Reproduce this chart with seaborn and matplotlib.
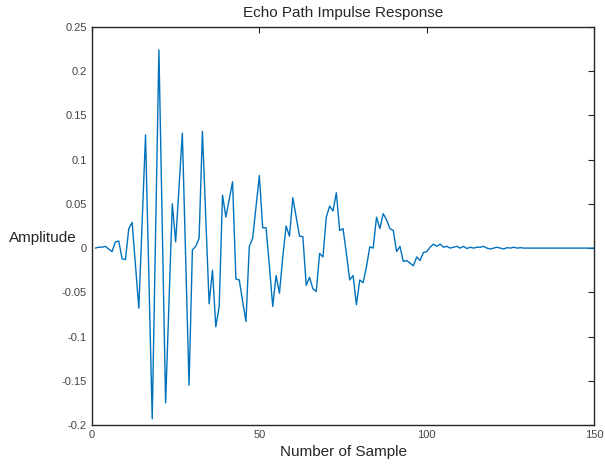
import numpy as np
import seaborn as sns
import matplotlib.pyplot as plt

# impulse response values (samples 1..n)
amplitude = [
    0.000, 0.001, 0.001, 0.002, -0.001, -0.004, 0.007, 0.008, -0.012, -0.013,
    0.022, 0.029, -0.020, -0.068, 0.030, 0.128, -0.032, -0.193, 0.015, 0.224,
    0.025, -0.175, -0.062, 0.050, 0.007, 0.068, 0.130, -0.012, -0.155, -0.002,
    0.002, 0.011, 0.132, 0.035, -0.063, -0.025, -0.089, -0.066, 0.060, 0.035,
    0.055, 0.075, -0.035, -0.036, -0.060, -0.083, 0.002, 0.011, 0.046, 0.082,
    0.023, 0.023, -0.020, -0.066, -0.031, -0.051, -0.010, 0.025, 0.0135, 0.057,
    0.035, 0.0135, 0.013, -0.042, -0.033, -0.046, -0.049, -0.006, -0.010, 0.035,
    0.0475, 0.042, 0.0626, 0.020, 0.022, -0.006, -0.036, -0.031, -0.064, -0.036,
    -0.039, -0.021, 0.0015, 0.000, 0.035, 0.022, 0.039, 0.032, 0.022, 0.020,
    -0.004, 0.002, -0.015, -0.014, -0.017, -0.020, -0.010, -0.014, -0.005, -0.004,
    0.001, 0.0045, 0.002, 0.0045, 0.001, 0.002, 0.000, 0.001, 0.002, 0.000,
    0.002, -0.0005, 0.001, 0.000, 0.001, 0.001, 0.002, 0.000, -0.001, 0.000,
    0.001, 0.000, -0.001, 0.0005, 0.000, 0.001, 0.000, 0.0005, 0.000, 0.000,
    0.000, 0.000, 0.000, 0.000, 0.000, 0.000, 0.000, 0.000, 0.000, 0.000,
    0.000, 0.000, 0.000, 0.000, 0.000, 0.000, 0.000, 0.000, 0.000, 0.000,
]
samples = np.arange(1, len(amplitude) + 1)

x_ticks = [0, 50, 100, 150]
y_ticks = [-0.2, -0.15, -0.1, -0.05, 0, 0.05, 0.1, 0.15, 0.2, 0.25]
y_tick_labels = ["-0.2", "-0.15", "-0.1", "-0.05", "0", "0.05", "0.1", "0.15", "0.2", "0.25"]

sns.set_style("white")
plt.rcParams["font.family"] = ["Liberation Sans", "DejaVu Sans"]

fig = plt.figure(figsize=(6.05, 4.65), dpi=100)
ax = fig.add_axes([0.152, 0.086, 0.830, 0.856])

sns.lineplot(x=samples, y=amplitude, color="#0072BD", linewidth=1.0, ax=ax)

ax.set_xlim(0, 150)
ax.set_ylim(-0.2, 0.25)
ax.set_xticks(x_ticks, [str(t) for t in x_ticks])
ax.set_yticks(y_ticks, y_tick_labels)
ax.tick_params(direction="in", length=4, width=0.8, top=True, right=True,
               labelsize=8, colors="#262626", labelcolor="#444444")
for side in ax.spines.values():
    side.set_color("#262626")
    side.set_linewidth(1.0)

ax.set_title("Echo Path Impulse Response", fontsize=11, pad=7)
ax.set_xlabel("Number of Sample", fontsize=11, labelpad=4)
ax.set_ylabel("Amplitude", fontsize=11, rotation=0, ha="center", va="center")
ax.yaxis.set_label_coords(-0.098, 0.47)

fig.savefig("out.png", dpi=100)
